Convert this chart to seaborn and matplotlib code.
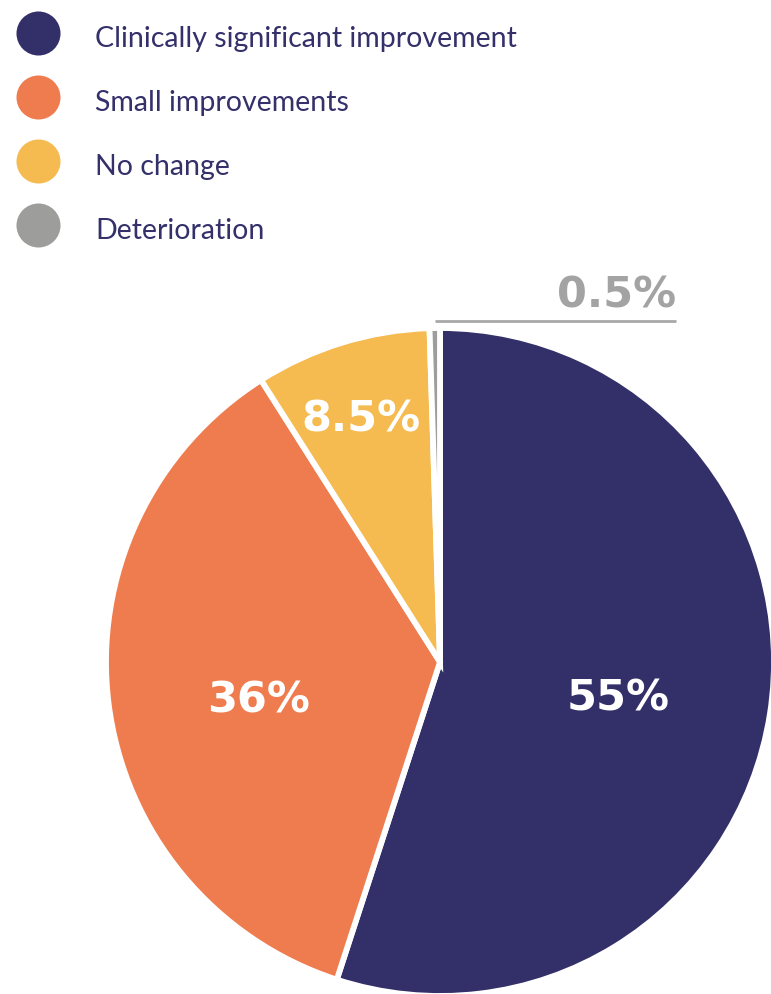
import matplotlib
matplotlib.use("Agg")
import matplotlib.pyplot as plt
from matplotlib.lines import Line2D
import numpy as np
import seaborn as sns

# data
categories = ["Clinically significant improvement", "Small improvements",
              "No change", "Deterioration"]
values = [55, 36, 8.5, 0.5]
value_labels = ["55%", "36%", "8.5%", "0.5%"]
colors = ["#332f68", "#ef7c4f", "#f5bb51", "#9d9d9b"]

sns.set_theme(style="white")
plt.rcParams["font.family"] = ["Lato", "DejaVu Sans"]

TEXT_NAVY = "#33306a"
GREY_TXT = "#a3a3a3"
NUM_FONT = ["DejaVu Sans"]

fig = plt.figure(figsize=(7.71, 9.95), dpi=100)
ax = fig.add_axes([0, 0, 1, 1])

cx, cy, r = 440, 332, 334
wedges, _ = ax.pie(
    values,
    colors=colors,
    startangle=90,
    counterclock=False,
    center=(cx, cy),
    radius=r,
    wedgeprops=dict(edgecolor="white", linewidth=4.2),
)
ax.set_xlim(0, 771)
ax.set_ylim(0, 995)
ax.set_aspect("equal")
ax.axis("off")

# in-slice labels: radial distance and angle nudge per slice
dists = [0.544, 0.556, 0.765]
nudges = [-2.4, 4.3, 0.9]
for w, lab, d, n in zip(wedges[:3], value_labels[:3], dists, nudges):
    ang = np.deg2rad((w.theta1 + w.theta2) / 2 + n)
    ax.text(cx + r * d * np.cos(ang), cy + r * d * np.sin(ang), lab,
            ha="center", va="center", color="white", family=NUM_FONT,
            fontsize=31, fontweight="bold")

# callout for the tiny slice
w = wedges[3]
ang = np.deg2rad((w.theta1 + w.theta2) / 2)
x0, y0 = cx + r * np.cos(ang), cy + r * np.sin(ang)
ax.plot([x0, x0 + 241], [y0 + 7, y0 + 7], color="#a8a8a8", lw=2,
        solid_capstyle="butt")
ax.text(x0 + 241, y0 + 22, value_labels[3], ha="right", va="baseline",
        color=GREY_TXT, fontsize=31, fontweight="bold", family=NUM_FONT)

# legend with round markers
handles = [Line2D([], [], marker="o", linestyle="none", markersize=31.7,
                  markerfacecolor=c, markeredgewidth=0) for c in colors]
fs = 20.5
px = fs * 100 / 72
ax.legend(handles, categories, loc="upper left",
          bbox_to_anchor=(16 / 771, 1 - 20 / 995), bbox_transform=fig.transFigure,
          frameon=False, fontsize=fs, labelcolor=TEXT_NAVY,
          handlelength=44 / px, handleheight=44 / px,
          handletextpad=35 / px, labelspacing=1.0,
          borderpad=0, borderaxespad=0)

fig.savefig("out.png", dpi=100)
